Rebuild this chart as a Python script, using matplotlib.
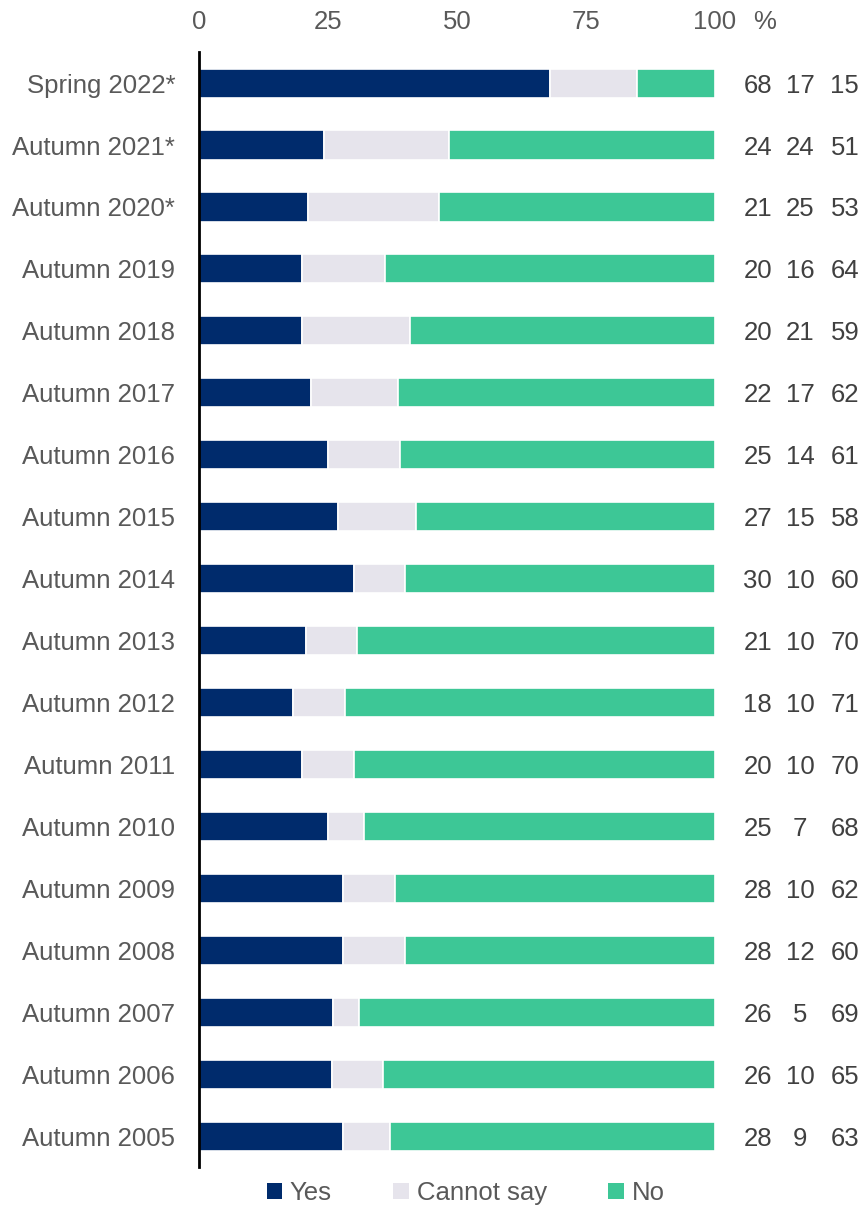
"""Share answering Yes / Cannot say / No, by survey round (horizontal stacked bars)."""
import matplotlib
matplotlib.use("Agg")
import matplotlib.pyplot as plt
from matplotlib.patches import Patch

plt.rcParams.update({
    "font.family": ["Liberation Sans", "DejaVu Sans"],
    "font.size": 18.5,
})

C_TEXT = "#595959"
C_NUM = "#404040"

ROUNDS = [
    "Spring 2022*", "Autumn 2021*", "Autumn 2020*", "Autumn 2019",
    "Autumn 2018", "Autumn 2017", "Autumn 2016", "Autumn 2015",
    "Autumn 2014", "Autumn 2013", "Autumn 2012", "Autumn 2011",
    "Autumn 2010", "Autumn 2009", "Autumn 2008", "Autumn 2007",
    "Autumn 2006", "Autumn 2005",
]
YES = [68, 24, 21, 20, 20, 22, 25, 27, 30, 21, 18, 20, 25, 28, 28, 26, 26, 28]
CANNOT_SAY = [17, 24, 25, 16, 21, 17, 14, 15, 10, 10, 10, 10, 7, 10, 12, 5, 10, 9]
NO = [15, 51, 53, 64, 59, 62, 61, 58, 60, 70, 71, 70, 68, 62, 60, 69, 65, 63]

SERIES = [
    ("Yes", YES, "#002b6c"),
    ("Cannot say", CANNOT_SAY, "#e6e4ec"),
    ("No", NO, "#3dc796"),
]

fig = plt.figure(figsize=(8.67, 12.06), dpi=100)
ax = fig.add_axes([0.2295, 0.0323, 0.595, 0.9245])

ypos = list(range(len(ROUNDS)))
totals = [y + c + n for y, c, n in zip(YES, CANNOT_SAY, NO)]
left = [0.0] * len(ROUNDS)
for name, vals, color in SERIES:
    shares = [v / t * 100 for v, t in zip(vals, totals)]
    ax.barh(ypos, shares, left=left, height=0.47, color=color,
            edgecolor="white", linewidth=1.2, label=name)
    left = [l + s for l, s in zip(left, shares)]

# value columns on the right
col_x = [108.3, 116.5, 125.2]
for i in ypos:
    for x, (_, vals, _) in zip(col_x, SERIES):
        ax.text(x, i, str(vals[i]), ha="center", va="center_baseline",
                color=C_NUM, clip_on=False)

ax.set_xlim(0, 100)
ax.set_ylim(len(ROUNDS) - 0.5, -0.5)
ax.set_yticks(ypos)
ax.set_yticklabels(ROUNDS)
ax.set_xticks([0, 25, 50, 75, 100])
ax.xaxis.tick_top()
ax.tick_params(axis="x", length=0, pad=13, colors=C_TEXT)
ax.tick_params(axis="y", length=0, pad=17, colors=C_TEXT)

# "%" sits on the same line as the top tick labels
fig.canvas.draw()
tick_bottom = ax.get_xticklabels()[-1].get_window_extent().y0
pct_y = ax.get_xaxis_transform().inverted().transform((0, tick_bottom))[1]
ax.text(109.7, pct_y, "%", transform=ax.get_xaxis_transform(), ha="center",
        va="bottom", color=C_TEXT, clip_on=False)

for s in ["top", "right", "bottom"]:
    ax.spines[s].set_visible(False)
ax.spines["left"].set_linewidth(2)
ax.spines["left"].set_color("black")

handles = [Patch(facecolor=c, label=n) for n, _, c in SERIES]
fig.legend(handles=handles, loc="center", bbox_to_anchor=(0.537, 0.0105),
           ncol=3, frameon=False, handlelength=0.6, handleheight=0.6,
           handletextpad=0.3, columnspacing=2.4, labelcolor=C_TEXT)

fig.savefig("out.png", dpi=100)
